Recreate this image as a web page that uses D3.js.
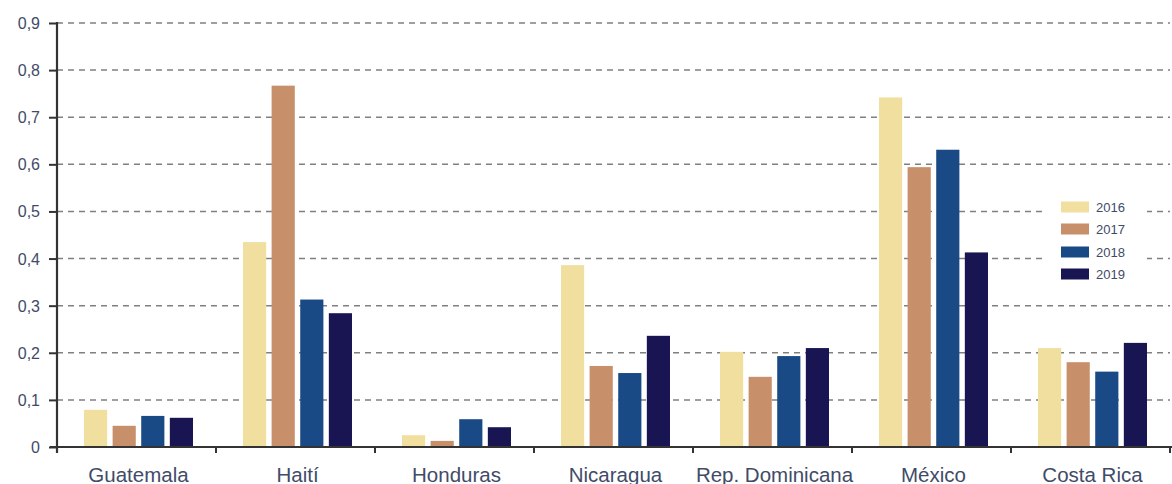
<!DOCTYPE html>
<html>
<head>
<meta charset="utf-8">
<script src="https://cdn.jsdelivr.net/npm/d3@7"></script>
<style>
  html, body { margin: 0; padding: 0; background: #fff; }
  svg { display: block; }
</style>
</head>
<body>
<svg id="chart" width="1172" height="484"></svg>
<script>
const countries = ["Guatemala", "Haití", "Honduras", "Nicaragua", "Rep. Dominicana", "México", "Costa Rica"];
const years = ["2016", "2017", "2018", "2019"];
const v2016 = [0.079, 0.435, 0.025, 0.386, 0.202, 0.742, 0.210];
const v2017 = [0.045, 0.767, 0.013, 0.172, 0.149, 0.594, 0.180];
const v2018 = [0.066, 0.313, 0.059, 0.157, 0.193, 0.631, 0.160];
const v2019 = [0.062, 0.284, 0.042, 0.236, 0.210, 0.413, 0.221];
const yTicks = [0, 0.1, 0.2, 0.3, 0.4, 0.5, 0.6, 0.7, 0.8, 0.9];
const colors = ["#f0df9f", "#c8906a", "#194a86", "#181552"];

const series = [v2016, v2017, v2018, v2019];
const textColor = "#414b68";
const font = "'Liberation Sans', Arial, sans-serif";

const svg = d3.select("#chart");
const mLeft = 57, mRight = 1170, mTop = 23, mBottom = 447;

const x0 = d3.scaleBand().domain(countries).range([mLeft, mRight]).padding(0);
const x1 = d3.scaleBand().domain(years).range([27, 136]).paddingInner(0.19).paddingOuter(0);
const y = d3.scaleLinear().domain([0, 0.9]).range([mBottom, mTop]);

// gridlines
svg.append("g").selectAll("line").data(yTicks.filter(d => d > 0)).join("line")
  .attr("x1", mLeft).attr("x2", mRight)
  .attr("y1", d => y(d)).attr("y2", d => y(d))
  .attr("stroke", "#808080").attr("stroke-width", 1.5)
  .attr("stroke-dasharray", "6,5");

// bars
const groups = svg.append("g").selectAll("g").data(countries).join("g")
  .attr("transform", d => `translate(${x0(d)},0)`);
groups.selectAll("rect").data((c, i) => years.map((yr, j) => ({ yr, v: series[j][i], j })))
  .join("rect")
  .attr("x", d => x1(d.yr))
  .attr("width", x1.bandwidth())
  .attr("y", d => y(d.v))
  .attr("height", d => y(0) - y(d.v))
  .attr("fill", d => colors[d.j]);

// y axis
const yAxis = d3.axisLeft(y).tickValues(yTicks).tickSize(8).tickPadding(9)
  .tickFormat(d => d === 0 ? "0" : d3.format(".1f")(d).replace(".", ","));
const gy = svg.append("g").attr("transform", `translate(${mLeft},0)`).call(yAxis);
gy.select(".domain").remove();
gy.selectAll(".tick line").attr("stroke", "#333").attr("stroke-width", 2);
gy.selectAll(".tick text").attr("fill", textColor).attr("font-family", font)
  .attr("font-size", 16).attr("dy", "0.34em");
svg.append("line").attr("x1", mLeft).attr("x2", mLeft).attr("y1", mTop - 1).attr("y2", mBottom + 6)
  .attr("stroke", "#333").attr("stroke-width", 2.2);

// x axis
svg.append("line").attr("x1", 50).attr("x2", 1172).attr("y1", mBottom).attr("y2", mBottom)
  .attr("stroke", "#333").attr("stroke-width", 2);
const bounds = countries.map(c => x0(c)).concat([x0(countries[countries.length - 1]) + x0.bandwidth()]);
svg.append("g").selectAll("line").data(bounds.slice(1)).join("line")
  .attr("x1", d => d).attr("x2", d => d).attr("y1", mBottom).attr("y2", mBottom + 6)
  .attr("stroke", "#333").attr("stroke-width", 2);
svg.append("g").selectAll("text").data(countries).join("text")
  .attr("x", d => x0(d) + x0.bandwidth() / 2 + 2)
  .attr("y", 482)
  .attr("text-anchor", "middle")
  .attr("fill", textColor).attr("font-family", font).attr("font-size", 20.5)
  .text(d => d);

// legend
const lg = svg.append("g");
lg.append("rect").attr("x", 1047).attr("y", 195).attr("width", 100).attr("height", 90).attr("fill", "#fff");
const rowY = [207, 229, 252, 274];
years.forEach((yr, i) => {
  lg.append("rect").attr("x", 1061).attr("y", rowY[i] - 5.5).attr("width", 28).attr("height", 11)
    .attr("fill", colors[i]);
  lg.append("text").attr("x", 1096).attr("y", rowY[i]).attr("dy", "0.35em")
    .attr("fill", textColor).attr("font-family", font).attr("font-size", 13).text(yr);
});
</script>
</body>
</html>
